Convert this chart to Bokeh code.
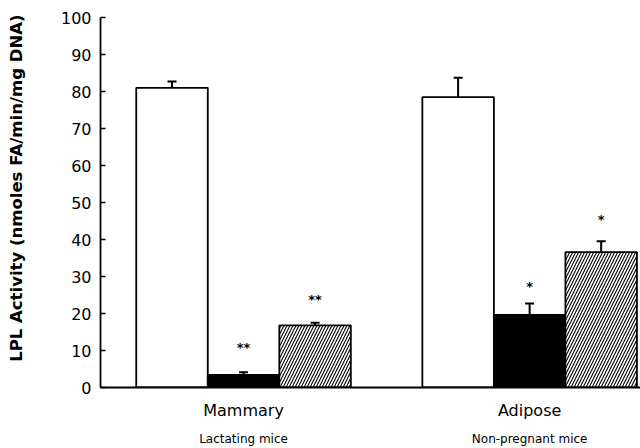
from bokeh.plotting import figure
from bokeh.models import ColumnDataSource, Range1d, Whisker, TeeHead, FixedTicker, LinearAxis
from bokeh.core.properties import value
from bokeh.embed import file_html
from bokeh.resources import INLINE

groups = ["Mammary", "Adipose"]
subtitles = ["Lactating mice", "Non-pregnant mice"]
white_vals = [81.0, 78.5]
white_err = [1.7, 5.2]
black_vals = [3.4, 19.6]
black_err = [0.7, 3.1]
hatch_vals = [16.8, 36.6]
hatch_err = [0.7, 2.9]
black_marks = ["**", "*"]
black_mark_y = [10.9, 27.3]
hatch_marks = ["**", "*"]
hatch_mark_y = [23.7, 45.3]
y_ticks = [0, 10, 20, 30, 40, 50, 60, 70, 80, 90, 100]

FONT = "DejaVu Sans"
centers = [2 + 4 * i for i in range(len(groups))]

p = figure(width=640, height=448, output_backend="svg", toolbar_location=None,
           x_range=Range1d(0, 7.55), y_range=Range1d(0, 100),
           min_border_left=100, min_border_right=0, min_border_top=17, min_border_bottom=61)
p.outline_line_color = None
p.xgrid.visible = False
p.ygrid.visible = False
p.background_fill_color = "white"

series = [
    (white_vals, white_err, -1, dict(fill_color="white")),
    (black_vals, black_err, 0, dict(fill_color="black")),
    (hatch_vals, hatch_err, 1, dict(fill_color="white", hatch_pattern="/", hatch_color="black",
                                    hatch_scale=6, hatch_weight=1.1)),
]
for vals, errs, off, style in series:
    xs = [c + off for c in centers]
    src = ColumnDataSource(dict(x=xs, top=vals, upper=[v + e for v, e in zip(vals, errs)]))
    p.vbar(x="x", top="top", bottom=0, width=1.0, source=src, line_color="black", line_width=1.8, **style)
    p.add_layout(Whisker(base="x", lower="top", upper="upper", source=src, dimension="height",
                         line_color="black", line_width=2,
                         upper_head=TeeHead(size=9, line_width=2, line_color="black"), lower_head=None))

for marks, ys, off in [(black_marks, black_mark_y, 0), (hatch_marks, hatch_mark_y, 1)]:
    src = ColumnDataSource(dict(x=[c + off for c in centers], y=ys, t=marks))
    p.text(x="x", y="y", text="t", source=src, text_align="center", text_baseline="middle",
           text_font=value(FONT), text_font_size="13px", text_font_style="bold", text_color="black")

# axes
p.yaxis.ticker = FixedTicker(ticks=y_ticks)
p.yaxis.major_tick_in = 5
p.yaxis.major_tick_out = 0
p.yaxis.minor_tick_line_color = None
p.yaxis.axis_line_width = 1.8
p.yaxis.major_tick_line_width = 1.5
p.yaxis.major_label_text_font = FONT
p.yaxis.major_label_text_font_size = "16px"
p.yaxis.major_label_text_color = "black"
p.yaxis.major_label_standoff = 9
p.yaxis.axis_label = "\u00a0" * 5 + "LPL Activity (nmoles FA/min/mg DNA)"
p.yaxis.axis_label_text_font = FONT
p.yaxis.axis_label_text_font_size = "16.5px"
p.yaxis.axis_label_text_font_style = "bold"
p.yaxis.axis_label_text_color = "black"
p.yaxis.axis_label_standoff = 32

p.xaxis.ticker = FixedTicker(ticks=centers)
p.xaxis.major_label_overrides = {c: g for c, g in zip(centers, groups)}
p.xaxis.major_tick_line_color = None
p.xaxis.minor_tick_line_color = None
p.xaxis.axis_line_width = 1.8
p.xaxis.major_label_text_font = FONT
p.xaxis.major_label_text_font_size = "16px"
p.xaxis.major_label_text_color = "black"
p.xaxis.major_label_standoff = 7

sub_axis = LinearAxis(ticker=FixedTicker(ticks=centers),
                      major_label_overrides={c: s for c, s in zip(centers, subtitles)},
                      axis_line_color=None, major_tick_line_color=None, minor_tick_line_color=None,
                      major_label_text_font=FONT, major_label_text_font_size="12px",
                      major_label_text_color="black", major_label_standoff=3)
p.add_layout(sub_axis, "below")

open("out.html", "w").write(file_html(p, INLINE))
